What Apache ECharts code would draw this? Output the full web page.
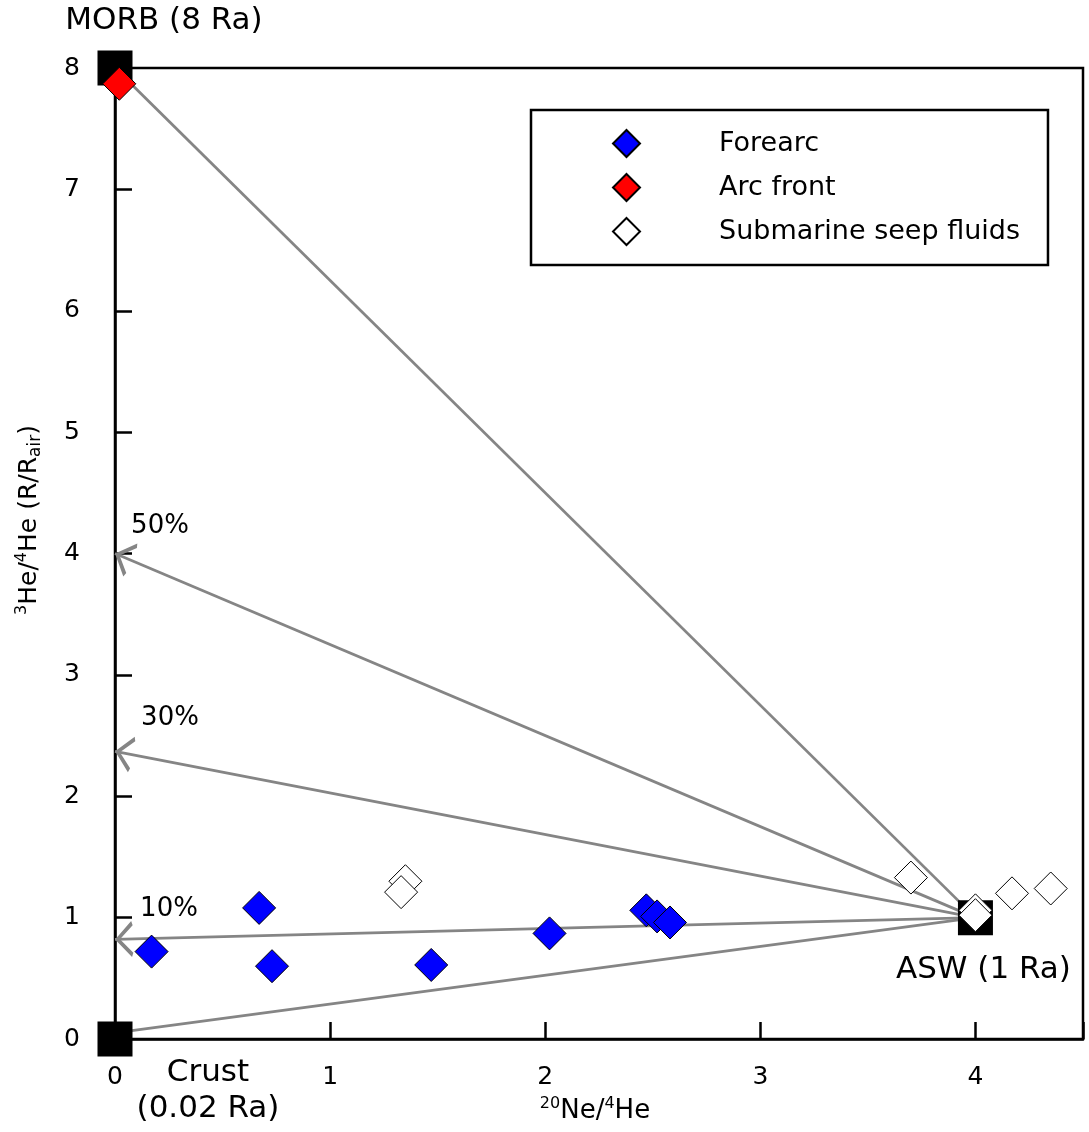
<!DOCTYPE html>
<html>
<head>
<meta charset="utf-8">
<script src="https://cdn.jsdelivr.net/npm/echarts@6/dist/echarts.min.js"></script>
<style>
html,body{margin:0;padding:0;background:#fff;}
#chart{width:1089px;height:1132px;}
</style>
</head>
<body>
<div id="chart"></div>
<script>
// ---- data ----
const forearcX = [0.17, 0.67, 0.73, 1.47, 2.02, 2.47, 2.52, 2.58];
const forearcY = [0.72, 1.08, 0.60, 0.61, 0.87, 1.06, 1.01, 0.96];
const arcFrontX = [0.02];
const arcFrontY = [7.87];
const seepX = [1.35, 1.33, 3.70, 4.00, 4.00, 4.17, 4.35];
const seepY = [1.30, 1.21, 1.33, 1.06, 1.02, 1.20, 1.24];
const endNames = ['MORB (8 Ra)', 'ASW (1 Ra)', 'Crust\n(0.02 Ra)'];
const endX = [0, 4, 0];
const endY = [8, 1, 0];
const aswPoint = [4, 1];
const plainTargetsX = [0, 0];
const plainTargetsY = [8, 0.05];
const arrowTargetsX = [0, 0, 0];
const arrowTargetsY = [4, 2.37, 0.82];
const arrowLabels = ['50%', '30%', '10%'];
const xTicks = [0, 1, 2, 3, 4];
const yTicks = [0, 1, 2, 3, 4, 5, 6, 7, 8];

const FONT = 'DejaVu Sans';
const GRAY = '#858585';

const chart = echarts.init(document.getElementById('chart'));

const zip = (xs, ys) => xs.map((x, i) => [x, ys[i]]);

const endOffsets = [[49, -47], [8, 52], [93, 52]];
const pctOffsets = [[45, -27], [55, -33], [54, -30]];

const arrowPath = 'path://M10,-17 L10.05,-17 L10,-16.95 Z M10,0 L20,15.5 L17.6,16.8 L10,4.6 L2.4,16.8 L0,15.5 Z';

const option = {
  animation: false,
  backgroundColor: '#fff',
  grid: {
    left: 115, right: 6, top: 68, bottom: 93,
    show: true, borderColor: '#000', borderWidth: 2.5, backgroundColor: 'transparent'
  },
  legend: {
    orient: 'vertical',
    left: 531, top: 110,
    padding: [19, 28, 19, 81],
    itemWidth: 27, itemHeight: 27, itemGap: 15,
    borderColor: '#000', borderWidth: 2.5,
    backgroundColor: '#fff',
    textStyle: { fontFamily: FONT, fontSize: 27, lineHeight: 27, color: '#000', padding: [0, 0, 0, 74] },
    data: ['Forearc', 'Arc front', 'Submarine seep fluids']
  },
  xAxis: {
    type: 'value', min: 0, max: 4.5, interval: 1,
    axisLine: { show: true, lineStyle: { color: '#000', width: 2.5 } },
    axisTick: { show: true, inside: true, length: 17, lineStyle: { color: '#000', width: 2.5 } },
    axisLabel: {
      fontFamily: FONT, fontSize: 25, color: '#000', margin: 26,
      formatter: v => (xTicks.indexOf(v) >= 0 ? String(v) : '')
    },
    splitLine: { show: false }
  },
  yAxis: {
    type: 'value', min: 0, max: 8, interval: 1,
    axisLine: { show: true, lineStyle: { color: '#000', width: 2.5 } },
    axisTick: { show: true, inside: true, length: 17, lineStyle: { color: '#000', width: 2.5 } },
    axisLabel: {
      fontFamily: FONT, fontSize: 25, color: '#000', margin: 35,
      formatter: v => (yTicks.indexOf(v) >= 0 ? String(v) : '')
    },
    splitLine: { show: false }
  },
  graphic: [
    {
      type: 'text', x: 29, y: 520, rotation: Math.PI / 2, z: 10,
      style: {
        text: '{sup|3}{m|He/}{sup|4}{m|He (R/R}{sub|air}{m|)}',
        align: 'center', verticalAlign: 'middle',
        rich: {
          m: { fontFamily: FONT, fontSize: 25, lineHeight: 30, fill: '#000' },
          sup: { fontFamily: FONT, fontSize: 16, lineHeight: 16, verticalAlign: 'top', fill: '#000' },
          sub: { fontFamily: FONT, fontSize: 17, lineHeight: 18, verticalAlign: 'bottom', fill: '#000' }
        }
      }
    },
    {
      type: 'text', x: 595, y: 1111, z: 10,
      style: {
        text: '{sup|20}{m|Ne/}{sup|4}{m|He}',
        align: 'center', verticalAlign: 'middle',
        rich: {
          m: { fontFamily: FONT, fontSize: 26, lineHeight: 30, fill: '#000' },
          sup: { fontFamily: FONT, fontSize: 16, lineHeight: 16, verticalAlign: 'top', fill: '#000' }
        }
      }
    }
  ],
  series: [
    {
      type: 'lines', coordinateSystem: 'cartesian2d', z: 1, clip: false,
      symbol: ['none', 'none'],
      lineStyle: { color: GRAY, width: 2.8, opacity: 1 },
      data: plainTargetsX.map((x, i) => ({ coords: [aswPoint, [x, plainTargetsY[i]]] }))
    },
    {
      type: 'lines', coordinateSystem: 'cartesian2d', z: 1, clip: false,
      symbol: ['none', arrowPath], symbolSize: [22, 36],
      lineStyle: { color: GRAY, width: 2.8, opacity: 1 },
      data: arrowTargetsX.map((x, i) => ({ coords: [aswPoint, [x, arrowTargetsY[i]]] }))
    },
    {
      name: 'pct', type: 'scatter', z: 2, clip: false, symbolSize: 0,
      silent: true,
      itemStyle: { opacity: 1 },
      data: arrowTargetsX.map((x, i) => ({
        value: [x, arrowTargetsY[i]], name: arrowLabels[i],
        label: { offset: pctOffsets[i] }
      })),
      label: {
        show: true, position: 'inside', formatter: '{b}',
        fontFamily: FONT, fontSize: 26, color: '#000'
      }
    },
    {
      name: 'endmembers', type: 'scatter', z: 3, clip: false,
      symbol: 'rect', symbolSize: 35,
      itemStyle: { color: '#000', opacity: 1 },
      data: endX.map((x, i) => ({
        value: [x, endY[i]], name: endNames[i],
        label: { offset: endOffsets[i] }
      })),
      label: {
        show: true, position: 'inside', formatter: '{b}',
        fontFamily: FONT, fontSize: 31, color: '#000', lineHeight: 36, align: 'center'
      }
    },
    {
      name: 'Submarine seep fluids', type: 'scatter', z: 4, clip: false,
      symbol: 'diamond', symbolSize: 33,
      itemStyle: { color: '#fff', borderColor: '#000', borderWidth: 1, opacity: 1 },
      data: zip(seepX, seepY)
    },
    {
      name: 'Forearc', type: 'scatter', z: 5, clip: false,
      symbol: 'diamond', symbolSize: 33,
      itemStyle: { color: '#0000ff', borderColor: '#000', borderWidth: 1, opacity: 1 },
      data: zip(forearcX, forearcY)
    },
    {
      name: 'Arc front', type: 'scatter', z: 6, clip: false,
      symbol: 'diamond', symbolSize: 33,
      itemStyle: { color: '#ff0000', borderColor: '#000', borderWidth: 1, opacity: 1 },
      data: zip(arcFrontX, arcFrontY)
    }
  ]
};
chart.setOption(option);
</script>
</body>
</html>
